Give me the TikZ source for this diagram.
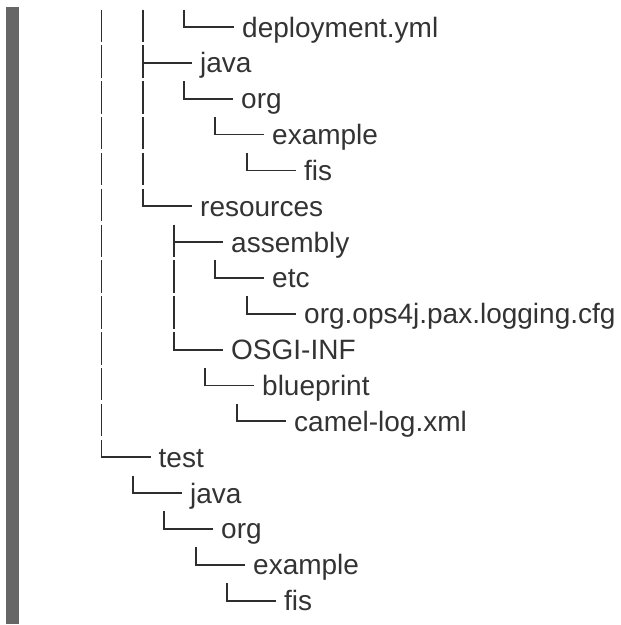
\documentclass[tikz,border=0pt]{standalone}
\usepackage{fontspec}
\setmainfont{Liberation Sans}
\definecolor{txt}{HTML}{333333}
\definecolor{linec}{HTML}{2E2E2E}
\definecolor{barc}{HTML}{666666}
\newcommand\treeedge[2]{%
  \draw[vl] (#1) -- (#1 |- #2.west);
  \draw[hl] (#1 |- #2.west) -- (#2.west);}
\begin{document}
\begin{tikzpicture}[x=1pt,y=-1pt,
  lbl/.style={anchor=west, inner sep=0pt, text height=24pt, text depth=4pt,
              font=\fontsize{28}{32}\selectfont, text=txt},
  vl/.style={draw=linec, line width=1.8pt, dash pattern=on 32.4pt off 3.45pt},
  hl/.style={draw=linec, line width=1.8pt, shorten >=8pt, shorten <=-0.9pt}]
\useasboundingbox (0,0) rectangle (621,625);
\fill[barc] (6,7) rectangle (19,624);

% labels
\node[lbl] (n0)  at (242,27)     {deployment.yml};
\node[lbl] (n1)  at (200,62.85)  {java};
\node[lbl] (n2)  at (241,98.7)   {org};
\node[lbl] (n3)  at (272,134.55) {example};
\node[lbl] (n4)  at (304,170.4)  {fis};
\node[lbl] (n5)  at (200,206.25) {resources};
\node[lbl] (n6)  at (231,242.1)  {assembly};
\node[lbl] (n7)  at (272,277.95) {etc};
\node[lbl] (n8)  at (304,313.8)  {org.ops4j.pax.logging.cfg};
\node[lbl] (n9)  at (231,349.65) {OSGI-INF};
\node[lbl] (n10) at (262,385.5)  {blueprint};
\node[lbl] (n11) at (294,421.35) {camel-log.xml};
\node[lbl] (n12) at (158.5,457.2) {test};
\node[lbl] (n13) at (190,493.05) {java};
\node[lbl] (n14) at (221,528.9)  {org};
\node[lbl] (n15) at (253,564.75) {example};
\node[lbl] (n16) at (284,600.6)  {fis};

% connector start points
\coordinate (ta) at (101.5,9.5);
\coordinate (tb) at (143,9.5);
\coordinate (tc) at (184,9.5);
\coordinate (s2) at (184,81.2);
\coordinate (s3) at (215,117.05);
\coordinate (s4) at (247,152.9);
\coordinate (s6) at (174,224.6);
\coordinate (s7) at (215,260.45);
\coordinate (s8) at (247,296.3);
\coordinate (s10) at (205,368);
\coordinate (s11) at (237,403.85);
\coordinate (s13) at (133,475.55);
\coordinate (s14) at (164,511.4);
\coordinate (s15) at (196,547.25);
\coordinate (s16) at (227,583.1);

% connectors
\treeedge{tc}{n0}
\treeedge{tb}{n1}
\treeedge{s2}{n2}
\treeedge{s3}{n3}
\treeedge{s4}{n4}
\treeedge{tb}{n5}
\treeedge{s6}{n6}
\treeedge{s7}{n7}
\treeedge{s8}{n8}
\treeedge{s6}{n9}
\treeedge{s10}{n10}
\treeedge{s11}{n11}
\treeedge{ta}{n12}
\treeedge{s13}{n13}
\treeedge{s14}{n14}
\treeedge{s15}{n15}
\treeedge{s16}{n16}
\end{tikzpicture}
\end{document}
